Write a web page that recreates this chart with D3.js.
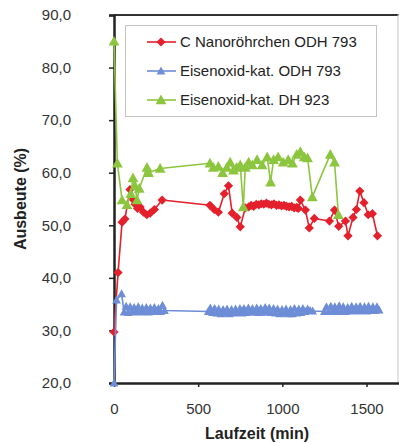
<!DOCTYPE html>
<html>
<head>
<meta charset="utf-8">
<script src="https://cdn.jsdelivr.net/npm/d3@7"></script>
<style>
  html, body { margin: 0; padding: 0; background: #fff; }
  svg { display: block; font-family: "Liberation Sans", Arial, sans-serif; }
  .tick-label { font-size: 15px; fill: #333; }
  .axis-title { font-size: 16px; font-weight: 700; fill: #222; }
  .legend-text { font-size: 15px; fill: #222; }
</style>
</head>
<body>
<div id="chart"></div>
<script>
// Ausbeute über Laufzeit - drei Katalysatoren
var yTicks = [20, 30, 40, 50, 60, 70, 80, 90];
var xTicks = [0, 500, 1000, 1500];

var seriesNames = ['C Nanoröhrchen ODH 793', 'Eisenoxid-kat. ODH 793', 'Eisenoxid-kat. DH 923'];

// [Laufzeit (min), Ausbeute (%)]
var nanoODH = [
    [0, 29.7], [24, 41], [48, 50.6], [65, 51.2], [95, 56.8], [110, 55], [125, 54], [140, 53.2],
    [155, 53.5], [175, 52.5], [195, 52], [215, 52.3], [240, 53], [286, 54.8],
    [570, 53.8], [595, 53], [620, 52.5], [655, 56], [680, 57.5], [702, 52.3], [730, 51.5],
    [750, 49.7], [780, 53.3], [800, 53.5], [815, 53.8], [830, 53.6], [845, 54], [860, 53.9],
    [875, 54.1], [890, 54], [905, 54.2], [920, 54], [935, 53.9], [950, 54.1], [965, 53.8],
    [980, 53.9], [995, 53.7], [1010, 53.8], [1025, 53.6], [1040, 53.5], [1055, 53.6],
    [1070, 53.3], [1085, 53.4], [1095, 53.2], [1107, 54.8], [1137, 52.9], [1160, 49.5],
    [1190, 51.3], [1280, 50.8], [1310, 52.9], [1335, 49.8], [1375, 50.8], [1390, 48],
    [1420, 51.5], [1440, 53], [1460, 56.5], [1485, 54.3], [1510, 52], [1535, 52.2], [1565, 48]
];

var eisenODH = [
    [0, 20], [15, 35.8], [45, 37], [60, 33.5], [72, 34.6], [84, 33.4], [96, 34.5], [108, 33.5],
    [120, 34.4], [132, 33.6], [144, 34.5], [156, 33.5], [168, 34.3], [180, 33.6], [192, 34.4],
    [204, 33.5], [216, 34.3], [228, 33.6], [240, 34.4], [252, 33.7], [264, 34.2], [276, 33.6],
    [288, 34.8], [300, 33.8],
    [560, 33.6], [572, 34.3], [585, 33.4], [598, 34.2], [610, 33.3], [622, 34.1], [635, 33.2],
    [648, 34], [660, 33.3], [672, 34.1], [685, 33.2], [698, 34], [710, 33.3], [722, 34.1],
    [735, 33.4], [748, 34.2], [760, 33.3], [772, 34.2], [785, 33.4], [798, 34.3], [810, 33.5],
    [822, 34.2], [835, 33.5], [848, 34.3], [860, 33.4], [872, 34.2], [885, 33.5], [898, 34.4],
    [910, 33.5], [922, 34.3], [935, 33.4], [948, 34.2], [960, 33.3], [972, 34.1], [985, 33.2],
    [998, 34], [1010, 33.3], [1022, 34.1], [1035, 33.2], [1048, 34], [1060, 33.2], [1072, 34.2],
    [1085, 33.3], [1098, 34.1], [1110, 33.4], [1122, 34.2], [1135, 33.6], [1150, 34.1],
    [1165, 33.8], [1180, 33.7],
    [1250, 33.6], [1262, 34.5], [1275, 33.6], [1288, 34.6], [1300, 33.7], [1312, 34.5],
    [1325, 33.6], [1338, 34.7], [1350, 33.7], [1362, 34.5], [1375, 33.6], [1388, 34.4],
    [1400, 33.7], [1412, 34.6], [1425, 33.8], [1438, 34.5], [1450, 33.7], [1462, 34.6],
    [1475, 33.8], [1488, 34.5], [1500, 33.7], [1512, 34.6], [1525, 33.8], [1538, 34.5],
    [1550, 33.8], [1562, 34.5], [1575, 33.9]
];

var eisenDH = [
    [0, 85], [20, 61.8], [48, 54.8], [77, 53.9], [100, 56], [113, 59], [125, 57.5], [137, 54.8],
    [150, 57], [196, 61], [205, 60], [274, 60.8],
    [570, 61.8], [590, 61], [620, 61.2], [645, 60], [670, 61], [690, 62], [710, 60.5],
    [728, 61], [750, 61.5], [768, 53.5], [780, 61], [800, 62], [822, 61.5], [850, 62.5],
    [880, 61.5], [910, 63], [930, 58.2], [948, 62.5], [975, 63], [1005, 62], [1035, 62.5],
    [1060, 61.8], [1085, 63.5], [1107, 64], [1130, 63], [1150, 62.8], [1178, 55.4],
    [1285, 63.5], [1310, 62], [1333, 52]
];

(function() {
    'use strict';

    var width = 399, height = 444;
    var plot = { left: 114, right: 398.5, top: 15, bottom: 383 };

    var x = d3.scaleLinear().domain([0, 1690]).range([plot.left, plot.right]);
    var y = d3.scaleLinear().domain([20, 90]).range([plot.bottom, plot.top]);

    function diamond(r) {
        return 'M0,' + (-r) + 'L' + r + ',0L0,' + r + 'L' + (-r) + ',0Z';
    }
    function triangle(r) {
        return 'M0,' + (-r) + 'L' + r + ',' + (r * 0.8) + 'L' + (-r) + ',' + (r * 0.8) + 'Z';
    }

    var series = [
        { name: seriesNames[0], data: nanoODH, color: '#e3202c', marker: diamond(4.6) },
        { name: seriesNames[1], data: eisenODH, color: '#6d8dd6', marker: triangle(4.4) },
        { name: seriesNames[2], data: eisenDH, color: '#8cc63f', marker: triangle(5.4) }
    ];

    var svg = d3.select('#chart').append('svg')
        .attr('width', width)
        .attr('height', height);

    // Frame: top dark, right light
    svg.append('line')
        .attr('x1', plot.left).attr('x2', plot.right)
        .attr('y1', plot.top).attr('y2', plot.top)
        .attr('stroke', '#333').attr('stroke-width', 2);
    svg.append('line')
        .attr('x1', plot.right - 0.5).attr('x2', plot.right - 0.5)
        .attr('y1', plot.top).attr('y2', plot.bottom)
        .attr('stroke', '#c8c8c8').attr('stroke-width', 1);

    // Axes (drawn before the series so the marks sit on top)
    var yAxis = d3.axisLeft(y)
        .tickValues(yTicks)
        .tickSize(5)
        .tickFormat(function(d) { return d3.format('.1f')(d).replace('.', ','); });

    var yg = svg.append('g')
        .attr('transform', 'translate(' + plot.left + ',0)')
        .call(yAxis);
    yg.select('.domain').attr('stroke', '#222').attr('stroke-width', 2.5);
    yg.selectAll('.tick line').attr('stroke', '#222').attr('stroke-width', 1.5);
    yg.selectAll('.tick text')
        .attr('class', 'tick-label')
        .attr('x', -43)
        .attr('font-size', null)
        .attr('font-family', null);

    var xAxis = d3.axisBottom(x)
        .tickValues(xTicks)
        .tickSize(4)
        .tickSizeOuter(0)
        .tickFormat(d3.format('d'));

    var xg = svg.append('g')
        .attr('transform', 'translate(0,' + plot.bottom + ')')
        .call(xAxis);
    xg.select('.domain').attr('stroke', '#222').attr('stroke-width', 2.5);
    xg.selectAll('.tick line').attr('stroke', '#222').attr('stroke-width', 1.5);
    xg.selectAll('.tick text')
        .attr('class', 'tick-label')
        .attr('y', 20)
        .attr('font-size', null)
        .attr('font-family', null);

    // Series
    var line = d3.line()
        .x(function(d) { return x(d[0]); })
        .y(function(d) { return y(d[1]); });

    series.forEach(function(s) {
        svg.append('path')
            .datum(s.data)
            .attr('d', line)
            .attr('fill', 'none')
            .attr('stroke', s.color)
            .attr('stroke-width', 1.6)
            .attr('stroke-linejoin', 'round');

        svg.append('g')
            .selectAll('path')
            .data(s.data)
            .join('path')
            .attr('transform', function(d) { return 'translate(' + x(d[0]) + ',' + y(d[1]) + ')'; })
            .attr('d', s.marker)
            .attr('fill', s.color);
    });

    // Axis titles
    svg.append('text')
        .attr('class', 'axis-title')
        .attr('text-anchor', 'middle')
        .attr('transform', 'translate(26,199) rotate(-90)')
        .text('Ausbeute (%)');

    svg.append('text')
        .attr('class', 'axis-title')
        .attr('text-anchor', 'middle')
        .attr('x', 257)
        .attr('y', 439)
        .text('Laufzeit (min)');

    // Legend
    var lg = svg.append('g');
    lg.append('rect')
        .attr('x', 125.5).attr('y', 25.5)
        .attr('width', 251).attr('height', 91)
        .attr('fill', '#fff')
        .attr('stroke', '#c4c4c4');

    series.forEach(function(s, i) {
        var ly = 42 + i * 29;
        lg.append('line')
            .attr('x1', 147).attr('x2', 176)
            .attr('y1', ly).attr('y2', ly)
            .attr('stroke', s.color).attr('stroke-width', 1.6);
        lg.append('path')
            .attr('transform', 'translate(161,' + ly + ')')
            .attr('d', s.marker)
            .attr('fill', s.color);
        lg.append('text')
            .attr('class', 'legend-text')
            .attr('x', 180)
            .attr('y', ly + 5)
            .text(s.name);
    });
})();
</script>
</body>
</html>
